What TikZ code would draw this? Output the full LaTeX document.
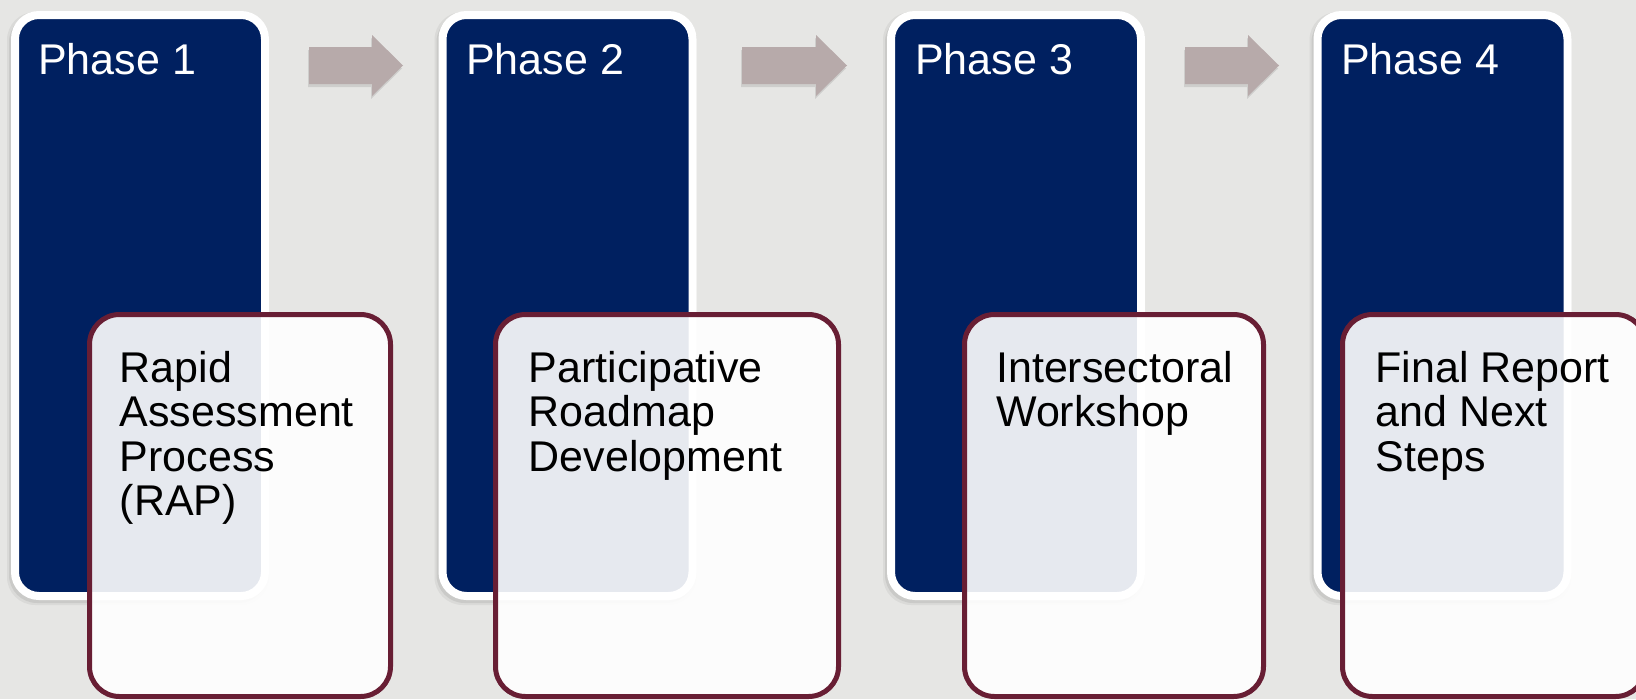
\documentclass[tikz,border=0pt]{standalone}
\usepackage{fontspec}
\setmainfont{Liberation Sans}
\definecolor{bggrey}{RGB}{230,230,228}
\definecolor{navy}{RGB}{0,32,96}
\definecolor{maroon}{RGB}{104,30,52}
\definecolor{arrowgrey}{RGB}{183,170,170}
\begin{document}
\begin{tikzpicture}[x=1pt,y=-1pt,
  phasebox/.style={rectangle, rounded corners=24pt, fill=navy, draw=white, line width=8pt,
    minimum width=250pt, minimum height=581pt, inner sep=0pt},
  phaseshadow/.style={rectangle, rounded corners=28pt, fill=black, draw=none,
    minimum width=258pt, minimum height=589pt, inner sep=0pt},
  taskbox/.style={rectangle, rounded corners=30pt, fill=white, fill opacity=0.9, draw=maroon,
    draw opacity=1, line width=5pt, minimum height=382pt, inner sep=0pt},
  phasetext/.style={anchor=base west, inner sep=0pt, text=white, font=\fontsize{43}{44.5}\selectfont},
  tasktext/.style={anchor=base west, inner sep=0pt, text=black, font=\fontsize{43}{44.5}\selectfont},
  blockarrow/.style={fill=arrowgrey},
  arrowshadow/.style={fill=black, fill opacity=0.10}]
\useasboundingbox (0,0) rectangle (1636,699);
\fill[bggrey] (0,0) rectangle (1636,699);

% shadows of the phase boxes
\foreach \cx/\nm in {140/s1,567.5/s2,1016/s3,1442.5/s4}{
  \node[phaseshadow, fill opacity=0.05, minimum width=262pt, minimum height=593pt] (\nm a) at (\cx-2,305.5+3) {};
  \node[phaseshadow, fill opacity=0.07] (\nm b) at (\cx-2,305.5+3) {};
}

% phase boxes
\node[phasebox] (b1) at (140,305.5) {};
\node[phasebox] (b2) at (567.5,305.5) {};
\node[phasebox] (b3) at (1016,305.5) {};
\node[phasebox] (b4) at (1442.5,305.5) {};

\node[phasetext] (p1) at (38,74) {Phase 1};
\node[phasetext] (p2) at (466,74) {Phase 2};
\node[phasetext] (p3) at (915,74) {Phase 3};
\node[phasetext] (p4) at (1341,74) {Phase 4};

% block arrows
\foreach \xa/\xh/\xb in {309/372/403, 742/816/847, 1185/1248/1279}{
  \fill[arrowshadow] (\xa-1,47+3) -- (\xh-1,47+3) -- (\xh-1,35+3) -- (\xb-1,65.5+3) -- (\xh-1,96+3) -- (\xh-1,84+3) -- (\xa-1,84+3) -- cycle;
  \fill[blockarrow] (\xa,47) -- (\xh,47) -- (\xh,35) -- (\xb,65.5) -- (\xh,96) -- (\xh,84) -- (\xa,84) -- cycle;
}

% task boxes
\node[taskbox, minimum width=301pt] (m1) at (240,505.5) {};
\node[taskbox, minimum width=343pt] (m2) at (667,505.5) {};
\node[taskbox, minimum width=299pt] (m3) at (1114,505.5) {};
\node[taskbox, minimum width=303pt] (m4) at (1494,505.5) {};

\node[tasktext] (k1) at (119.5,382) {\parbox[t]{300pt}{\raggedright Rapid\\Assessment\\Process\\(RAP)}};
\node[tasktext] (k2) at (528.5,382) {\parbox[t]{320pt}{\raggedright Participative\\Roadmap\\Development}};
\node[tasktext] (k3) at (996,382) {\parbox[t]{300pt}{\raggedright Intersectoral\\Workshop}};
\node[tasktext] (k4) at (1375.5,382) {\parbox[t]{300pt}{\raggedright Final Report\\and Next\\Steps}};
\end{tikzpicture}
\end{document}
